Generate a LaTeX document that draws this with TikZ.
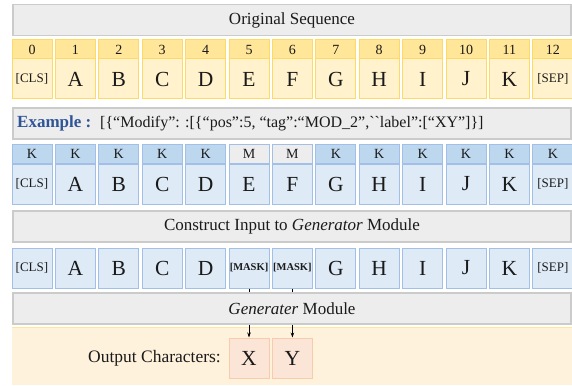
\documentclass[tikz,border=0pt]{standalone}
\usepackage{fontspec}
\setmainfont{Liberation Serif}
\usetikzlibrary{arrows.meta}

\definecolor{barfill}{HTML}{EDEDED}
\definecolor{bardraw}{HTML}{CBCBCB}
\definecolor{ydraw}{HTML}{FFD966}
\definecolor{yidx}{HTML}{FFE699}
\definecolor{ychr}{HTML}{FFF2CC}
\definecolor{bdraw}{HTML}{A2BFE8}
\definecolor{bidx}{HTML}{BDD7EE}
\definecolor{bchr}{HTML}{DEEBF7}
\definecolor{midx}{HTML}{EDEDED}
\definecolor{outfill}{HTML}{FFF2DC}
\definecolor{outline}{HTML}{FFE699}
\definecolor{xfill}{HTML}{FBE5D6}
\definecolor{xdraw}{HTML}{F8CBAD}
\definecolor{exblue}{HTML}{2F5597}
\definecolor{ink}{HTML}{1A1A1A}

\begin{document}
\begin{tikzpicture}[x=1pt,y=1pt,every node/.style={text=ink}]
        \tikzstyle{bar}=[draw=bardraw,fill=barfill,line width=1.2pt,minimum width=558pt,minimum height=31pt,inner sep=0pt,font=\fontsize{17}{20}\selectfont]
        \tikzstyle{cell}=[line width=1pt,minimum width=40pt,inner sep=0pt]
        \tikzstyle{idx}=[cell,minimum height=19.5pt,font=\fontsize{14}{16}\selectfont]
        \tikzstyle{chr}=[cell,minimum height=40pt,font=\fontsize{21.5}{24}\selectfont]
        \tikzstyle{yidx}=[idx,draw=ydraw,fill=yidx]
        \tikzstyle{ychr}=[chr,draw=ydraw,fill=ychr]
        \tikzstyle{tagK}=[idx,draw=bdraw,fill=bidx]
        \tikzstyle{tagM}=[idx,draw=bdraw,fill=midx]
        \tikzstyle{bchr}=[chr,draw=bdraw,fill=bchr]
        \tikzstyle{small}=[font=\fontsize{13}{15}\selectfont]
        \tikzstyle{mask}=[font=\fontsize{10.5}{12}\selectfont\bfseries]
        \tikzstyle{arr}=[line width=0.7pt,-{Stealth[length=5pt,width=3.5pt]}]
        \useasboundingbox (0,0) rectangle (572,-385);

        % original sequence
        \node[bar] (orig) at (292,-20) {Original Sequence};
        \node[yidx] (oi0) at (32,-49.5) {0};
        \node[ychr,small] (oc0) at (32,-79) {[CLS]};
        \foreach \t [count=\i] in {A,B,C,D,E,F,G,H,I,J,K}{
          \node[yidx] (oi\i) at (32+43.4*\i,-49.5) {\i};
          \node[ychr] (oc\i) at (32+43.4*\i,-79) {\t};
        }
        \node[yidx] (oi12) at (32+43.4*12,-49.5) {12};
        \node[ychr,small] (oc12) at (32+43.4*12,-79) {[SEP]};

        % example
        \node[bar] (ex) at (292,-123.5) {};
        \node[anchor=west,inner sep=0pt,text=exblue,font=\fontsize{17}{20}\selectfont\bfseries] (exlab) at (17,-123.5) {Example :};
        \node[anchor=west,inner sep=0pt,font=\fontsize{16}{20}\selectfont] (extxt) at (100,-123.5)
          {[\{“Modify”: :[\{“pos”:5, “tag”:“MOD\_2”,\textasciigrave\textasciigrave label”:[“XY”]\}]};
        \node[tagK] (ti0) at (32,-154) {K};
        \node[bchr,small] (tc0) at (32,-184) {[CLS]};
        \foreach \t/\g [count=\i] in {A/K,B/K,C/K,D/K,E/M,F/M,G/K,H/K,I/K,J/K,K/K}{
          \node[tag\g] (ti\i) at (32+43.4*\i,-154) {\g};
          \node[bchr] (tc\i) at (32+43.4*\i,-184) {\t};
        }
        \node[tagK] (ti12) at (32+43.4*12,-154) {K};
        \node[bchr,small] (tc12) at (32+43.4*12,-184) {[SEP]};

        % input to generator
        \node[bar] (cons) at (292,-226.5) {Construct Input to \textit{Generator} Module};
        \node[bchr,small] (in0) at (32,-268) {[CLS]};
        \foreach \t/\i in {A/1,B/2,C/3,D/4,G/7,H/8,I/9,J/10,K/11}{
          \node[bchr] (in\i) at (32+43.4*\i,-268) {\t};
        }
        \node[bchr,mask] (in5) at (32+43.4*5,-268) {[MASK]};
        \node[bchr,mask] (in6) at (32+43.4*6,-268) {[MASK]};
        \node[bchr,small] (in12) at (32+43.4*12,-268) {[SEP]};

        % output
        \node[fill=outfill,minimum width=560pt,minimum height=57pt,inner sep=0pt] (outbg) at (292,-356.5) {};
        \draw[outline,line width=1.2pt] (outbg.north west) -- (outbg.north east);
        \node[anchor=east,inner sep=0pt,font=\fontsize{17.5}{20}\selectfont] (outlab) at (221,-358) {Output Characters:};
        \node[chr,draw=xdraw,fill=xfill] (outX) at (32+43.4*5,-358) {X};
        \node[chr,draw=xdraw,fill=xfill] (outY) at (32+43.4*6,-358) {Y};
        \draw[arr] (in5) -- (outX);
        \draw[arr] (in6) -- (outY);

        \node[bar] (gen) at (292,-308.5) {\textit{Generater} Module};
      \end{tikzpicture}
\end{document}
